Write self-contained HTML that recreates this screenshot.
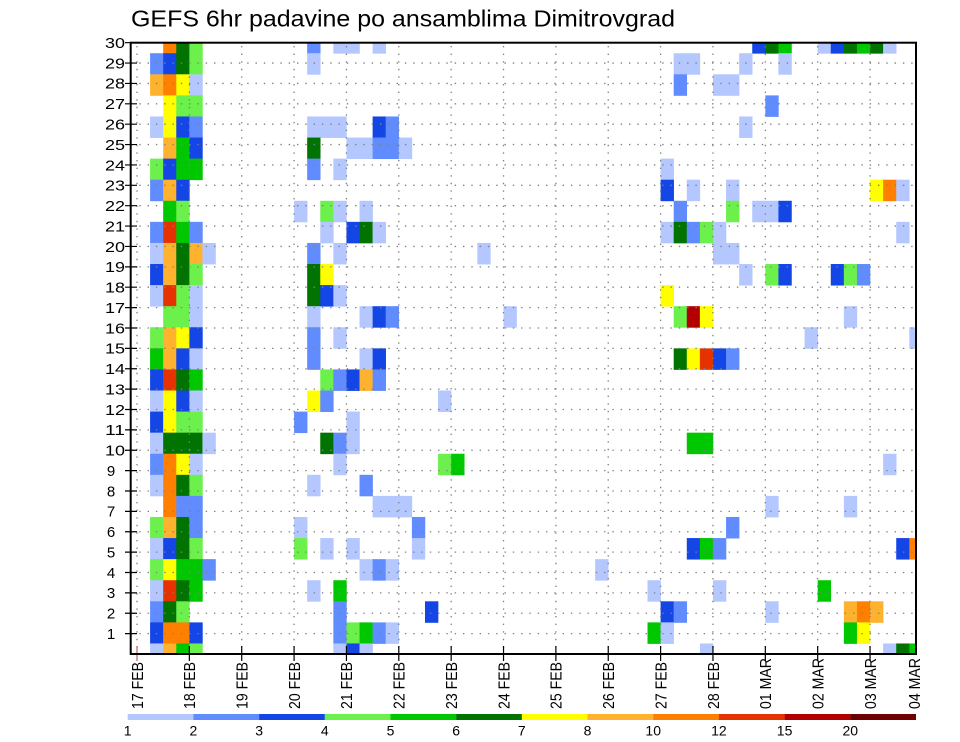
<!DOCTYPE html>
<html>
<head>
<meta charset="utf-8">
<style>
html,body{margin:0;padding:0;background:#fff;}
svg{display:block;}
text{font-family:"Liberation Sans",sans-serif;fill:#000;}
.a{fill:#b4c8ff}.b{fill:#608cff}.c{fill:#1446e6}.d{fill:#6cf04c}.e{fill:#00c800}.f{fill:#007300}
.g{fill:#ffff00}.h{fill:#ffb22e}.i{fill:#ff8000}.j{fill:#e63200}.m{fill:#b20000}.l{fill:#6e0000}
</style>
</head>
<body>
<svg width="960" height="742" viewBox="0 0 960 742" xmlns="http://www.w3.org/2000/svg">
<rect x="0" y="0" width="960" height="742" fill="#fff"/>
<defs><clipPath id="pc"><rect x="130.7" y="42.7" width="785.3" height="611.3"/></clipPath></defs>

<text x="131" y="26.7" font-size="23" textLength="544" lengthAdjust="spacingAndGlyphs">GEFS 6hr padavine po ansamblima Dimitrovgrad</text>

<g clip-path="url(#pc)">
<g transform="matrix(13.09 0 0 21.08 137 643.46)">
<!-- r=29 -->
<rect x="2" y="-29" width="1.02" height="1.02" class="i"/><rect x="3" y="-29" width="1.02" height="1.02" class="f"/><rect x="4" y="-29" width="1.02" height="1.02" class="d"/><rect x="13" y="-29" width="1.02" height="1.02" class="b"/><rect x="15" y="-29" width="2.02" height="1.02" class="a"/><rect x="18" y="-29" width="1.02" height="1.02" class="a"/><rect x="47" y="-29" width="1.02" height="1.02" class="c"/><rect x="48" y="-29" width="1.02" height="1.02" class="f"/><rect x="49" y="-29" width="1.02" height="1.02" class="e"/><rect x="52" y="-29" width="1.02" height="1.02" class="a"/><rect x="53" y="-29" width="1.02" height="1.02" class="c"/><rect x="54" y="-29" width="1.02" height="1.02" class="f"/><rect x="55" y="-29" width="1.02" height="1.02" class="e"/><rect x="56" y="-29" width="1.02" height="1.02" class="f"/><rect x="57" y="-29" width="1.02" height="1.02" class="a"/>
<!-- r=28 -->
<rect x="1" y="-28" width="1.02" height="1.02" class="b"/><rect x="2" y="-28" width="1.02" height="1.02" class="c"/><rect x="3" y="-28" width="1.02" height="1.02" class="f"/><rect x="4" y="-28" width="1.02" height="1.02" class="d"/><rect x="13" y="-28" width="1.02" height="1.02" class="a"/><rect x="41" y="-28" width="2.02" height="1.02" class="a"/><rect x="46" y="-28" width="1.02" height="1.02" class="a"/><rect x="49" y="-28" width="1.02" height="1.02" class="a"/>
<!-- r=27 -->
<rect x="1" y="-27" width="1.02" height="1.02" class="h"/><rect x="2" y="-27" width="1.02" height="1.02" class="i"/><rect x="3" y="-27" width="1.02" height="1.02" class="g"/><rect x="4" y="-27" width="1.02" height="1.02" class="a"/><rect x="41" y="-27" width="1.02" height="1.02" class="b"/><rect x="44" y="-27" width="2.02" height="1.02" class="a"/>
<!-- r=26 -->
<rect x="2" y="-26" width="1.02" height="1.02" class="g"/><rect x="3" y="-26" width="2.02" height="1.02" class="d"/><rect x="48" y="-26" width="1.02" height="1.02" class="b"/>
<!-- r=25 -->
<rect x="1" y="-25" width="1.02" height="1.02" class="a"/><rect x="2" y="-25" width="1.02" height="1.02" class="g"/><rect x="3" y="-25" width="1.02" height="1.02" class="c"/><rect x="4" y="-25" width="1.02" height="1.02" class="b"/><rect x="13" y="-25" width="3.02" height="1.02" class="a"/><rect x="18" y="-25" width="1.02" height="1.02" class="c"/><rect x="19" y="-25" width="1.02" height="1.02" class="b"/><rect x="46" y="-25" width="1.02" height="1.02" class="a"/>
<!-- r=24 -->
<rect x="2" y="-24" width="1.02" height="1.02" class="h"/><rect x="3" y="-24" width="1.02" height="1.02" class="e"/><rect x="4" y="-24" width="1.02" height="1.02" class="c"/><rect x="13" y="-24" width="1.02" height="1.02" class="f"/><rect x="16" y="-24" width="2.02" height="1.02" class="a"/><rect x="18" y="-24" width="2.02" height="1.02" class="b"/><rect x="20" y="-24" width="1.02" height="1.02" class="a"/>
<!-- r=23 -->
<rect x="1" y="-23" width="1.02" height="1.02" class="d"/><rect x="2" y="-23" width="1.02" height="1.02" class="c"/><rect x="3" y="-23" width="2.02" height="1.02" class="e"/><rect x="13" y="-23" width="1.02" height="1.02" class="b"/><rect x="15" y="-23" width="1.02" height="1.02" class="a"/><rect x="40" y="-23" width="1.02" height="1.02" class="a"/>
<!-- r=22 -->
<rect x="1" y="-22" width="1.02" height="1.02" class="b"/><rect x="2" y="-22" width="1.02" height="1.02" class="h"/><rect x="3" y="-22" width="1.02" height="1.02" class="c"/><rect x="40" y="-22" width="1.02" height="1.02" class="c"/><rect x="42" y="-22" width="1.02" height="1.02" class="a"/><rect x="45" y="-22" width="1.02" height="1.02" class="a"/><rect x="56" y="-22" width="1.02" height="1.02" class="g"/><rect x="57" y="-22" width="1.02" height="1.02" class="i"/><rect x="58" y="-22" width="1.02" height="1.02" class="a"/>
<!-- r=21 -->
<rect x="2" y="-21" width="1.02" height="1.02" class="e"/><rect x="3" y="-21" width="1.02" height="1.02" class="d"/><rect x="12" y="-21" width="1.02" height="1.02" class="a"/><rect x="14" y="-21" width="1.02" height="1.02" class="d"/><rect x="15" y="-21" width="1.02" height="1.02" class="a"/><rect x="17" y="-21" width="1.02" height="1.02" class="a"/><rect x="41" y="-21" width="1.02" height="1.02" class="b"/><rect x="45" y="-21" width="1.02" height="1.02" class="d"/><rect x="47" y="-21" width="2.02" height="1.02" class="a"/><rect x="49" y="-21" width="1.02" height="1.02" class="c"/>
<!-- r=20 -->
<rect x="1" y="-20" width="1.02" height="1.02" class="b"/><rect x="2" y="-20" width="1.02" height="1.02" class="j"/><rect x="3" y="-20" width="1.02" height="1.02" class="e"/><rect x="4" y="-20" width="1.02" height="1.02" class="b"/><rect x="14" y="-20" width="1.02" height="1.02" class="a"/><rect x="16" y="-20" width="1.02" height="1.02" class="c"/><rect x="17" y="-20" width="1.02" height="1.02" class="f"/><rect x="18" y="-20" width="1.02" height="1.02" class="a"/><rect x="40" y="-20" width="1.02" height="1.02" class="a"/><rect x="41" y="-20" width="1.02" height="1.02" class="f"/><rect x="42" y="-20" width="1.02" height="1.02" class="b"/><rect x="43" y="-20" width="1.02" height="1.02" class="d"/><rect x="44" y="-20" width="1.02" height="1.02" class="a"/><rect x="58" y="-20" width="1.02" height="1.02" class="a"/>
<!-- r=19 -->
<rect x="1" y="-19" width="1.02" height="1.02" class="a"/><rect x="2" y="-19" width="1.02" height="1.02" class="h"/><rect x="3" y="-19" width="1.02" height="1.02" class="f"/><rect x="4" y="-19" width="1.02" height="1.02" class="h"/><rect x="5" y="-19" width="1.02" height="1.02" class="a"/><rect x="13" y="-19" width="1.02" height="1.02" class="b"/><rect x="15" y="-19" width="1.02" height="1.02" class="a"/><rect x="26" y="-19" width="1.02" height="1.02" class="a"/><rect x="44" y="-19" width="2.02" height="1.02" class="a"/>
<!-- r=18 -->
<rect x="1" y="-18" width="1.02" height="1.02" class="c"/><rect x="2" y="-18" width="1.02" height="1.02" class="h"/><rect x="3" y="-18" width="1.02" height="1.02" class="f"/><rect x="4" y="-18" width="1.02" height="1.02" class="d"/><rect x="13" y="-18" width="1.02" height="1.02" class="f"/><rect x="14" y="-18" width="1.02" height="1.02" class="g"/><rect x="46" y="-18" width="1.02" height="1.02" class="a"/><rect x="48" y="-18" width="1.02" height="1.02" class="d"/><rect x="49" y="-18" width="1.02" height="1.02" class="c"/><rect x="53" y="-18" width="1.02" height="1.02" class="c"/><rect x="54" y="-18" width="1.02" height="1.02" class="d"/><rect x="55" y="-18" width="1.02" height="1.02" class="b"/>
<!-- r=17 -->
<rect x="1" y="-17" width="1.02" height="1.02" class="a"/><rect x="2" y="-17" width="1.02" height="1.02" class="j"/><rect x="3" y="-17" width="1.02" height="1.02" class="d"/><rect x="4" y="-17" width="1.02" height="1.02" class="a"/><rect x="13" y="-17" width="1.02" height="1.02" class="f"/><rect x="14" y="-17" width="1.02" height="1.02" class="c"/><rect x="15" y="-17" width="1.02" height="1.02" class="a"/><rect x="40" y="-17" width="1.02" height="1.02" class="g"/>
<!-- r=16 -->
<rect x="2" y="-16" width="2.02" height="1.02" class="d"/><rect x="4" y="-16" width="1.02" height="1.02" class="a"/><rect x="13" y="-16" width="1.02" height="1.02" class="a"/><rect x="17" y="-16" width="1.02" height="1.02" class="a"/><rect x="18" y="-16" width="1.02" height="1.02" class="c"/><rect x="19" y="-16" width="1.02" height="1.02" class="b"/><rect x="28" y="-16" width="1.02" height="1.02" class="a"/><rect x="41" y="-16" width="1.02" height="1.02" class="d"/><rect x="42" y="-16" width="1.02" height="1.02" class="m"/><rect x="43" y="-16" width="1.02" height="1.02" class="g"/><rect x="54" y="-16" width="1.02" height="1.02" class="a"/>
<!-- r=15 -->
<rect x="1" y="-15" width="1.02" height="1.02" class="d"/><rect x="2" y="-15" width="1.02" height="1.02" class="h"/><rect x="3" y="-15" width="1.02" height="1.02" class="g"/><rect x="4" y="-15" width="1.02" height="1.02" class="c"/><rect x="13" y="-15" width="1.02" height="1.02" class="b"/><rect x="15" y="-15" width="1.02" height="1.02" class="a"/><rect x="51" y="-15" width="1.02" height="1.02" class="a"/><rect x="59" y="-15" width="1.02" height="1.02" class="a"/>
<!-- r=14 -->
<rect x="1" y="-14" width="1.02" height="1.02" class="e"/><rect x="2" y="-14" width="1.02" height="1.02" class="h"/><rect x="3" y="-14" width="1.02" height="1.02" class="c"/><rect x="4" y="-14" width="1.02" height="1.02" class="a"/><rect x="13" y="-14" width="1.02" height="1.02" class="b"/><rect x="17" y="-14" width="1.02" height="1.02" class="a"/><rect x="18" y="-14" width="1.02" height="1.02" class="c"/><rect x="41" y="-14" width="1.02" height="1.02" class="f"/><rect x="42" y="-14" width="1.02" height="1.02" class="g"/><rect x="43" y="-14" width="1.02" height="1.02" class="j"/><rect x="44" y="-14" width="1.02" height="1.02" class="c"/><rect x="45" y="-14" width="1.02" height="1.02" class="b"/>
<!-- r=13 -->
<rect x="1" y="-13" width="1.02" height="1.02" class="c"/><rect x="2" y="-13" width="1.02" height="1.02" class="j"/><rect x="3" y="-13" width="1.02" height="1.02" class="f"/><rect x="4" y="-13" width="1.02" height="1.02" class="e"/><rect x="14" y="-13" width="1.02" height="1.02" class="d"/><rect x="15" y="-13" width="1.02" height="1.02" class="b"/><rect x="16" y="-13" width="1.02" height="1.02" class="c"/><rect x="17" y="-13" width="1.02" height="1.02" class="h"/><rect x="18" y="-13" width="1.02" height="1.02" class="b"/>
<!-- r=12 -->
<rect x="1" y="-12" width="1.02" height="1.02" class="a"/><rect x="2" y="-12" width="1.02" height="1.02" class="g"/><rect x="3" y="-12" width="1.02" height="1.02" class="c"/><rect x="4" y="-12" width="1.02" height="1.02" class="a"/><rect x="13" y="-12" width="1.02" height="1.02" class="g"/><rect x="14" y="-12" width="1.02" height="1.02" class="b"/><rect x="23" y="-12" width="1.02" height="1.02" class="a"/>
<!-- r=11 -->
<rect x="1" y="-11" width="1.02" height="1.02" class="c"/><rect x="2" y="-11" width="1.02" height="1.02" class="g"/><rect x="3" y="-11" width="2.02" height="1.02" class="d"/><rect x="12" y="-11" width="1.02" height="1.02" class="b"/><rect x="16" y="-11" width="1.02" height="1.02" class="a"/>
<!-- r=10 -->
<rect x="1" y="-10" width="1.02" height="1.02" class="a"/><rect x="2" y="-10" width="3.02" height="1.02" class="f"/><rect x="5" y="-10" width="1.02" height="1.02" class="a"/><rect x="14" y="-10" width="1.02" height="1.02" class="f"/><rect x="15" y="-10" width="1.02" height="1.02" class="b"/><rect x="16" y="-10" width="1.02" height="1.02" class="a"/><rect x="42" y="-10" width="2.02" height="1.02" class="e"/>
<!-- r=9 -->
<rect x="1" y="-9" width="1.02" height="1.02" class="b"/><rect x="2" y="-9" width="1.02" height="1.02" class="i"/><rect x="3" y="-9" width="1.02" height="1.02" class="g"/><rect x="4" y="-9" width="1.02" height="1.02" class="a"/><rect x="15" y="-9" width="1.02" height="1.02" class="a"/><rect x="23" y="-9" width="1.02" height="1.02" class="d"/><rect x="24" y="-9" width="1.02" height="1.02" class="e"/><rect x="57" y="-9" width="1.02" height="1.02" class="a"/>
<!-- r=8 -->
<rect x="1" y="-8" width="1.02" height="1.02" class="a"/><rect x="2" y="-8" width="1.02" height="1.02" class="i"/><rect x="3" y="-8" width="1.02" height="1.02" class="f"/><rect x="4" y="-8" width="1.02" height="1.02" class="d"/><rect x="13" y="-8" width="1.02" height="1.02" class="a"/><rect x="17" y="-8" width="1.02" height="1.02" class="b"/>
<!-- r=7 -->
<rect x="2" y="-7" width="1.02" height="1.02" class="i"/><rect x="3" y="-7" width="2.02" height="1.02" class="b"/><rect x="18" y="-7" width="3.02" height="1.02" class="a"/><rect x="48" y="-7" width="1.02" height="1.02" class="a"/><rect x="54" y="-7" width="1.02" height="1.02" class="a"/>
<!-- r=6 -->
<rect x="1" y="-6" width="1.02" height="1.02" class="d"/><rect x="2" y="-6" width="1.02" height="1.02" class="h"/><rect x="3" y="-6" width="1.02" height="1.02" class="f"/><rect x="4" y="-6" width="1.02" height="1.02" class="b"/><rect x="12" y="-6" width="1.02" height="1.02" class="a"/><rect x="21" y="-6" width="1.02" height="1.02" class="b"/><rect x="45" y="-6" width="1.02" height="1.02" class="b"/>
<!-- r=5 -->
<rect x="1" y="-5" width="1.02" height="1.02" class="a"/><rect x="2" y="-5" width="1.02" height="1.02" class="c"/><rect x="3" y="-5" width="1.02" height="1.02" class="f"/><rect x="4" y="-5" width="1.02" height="1.02" class="d"/><rect x="12" y="-5" width="1.02" height="1.02" class="d"/><rect x="14" y="-5" width="1.02" height="1.02" class="a"/><rect x="16" y="-5" width="1.02" height="1.02" class="a"/><rect x="21" y="-5" width="1.02" height="1.02" class="a"/><rect x="42" y="-5" width="1.02" height="1.02" class="c"/><rect x="43" y="-5" width="1.02" height="1.02" class="e"/><rect x="44" y="-5" width="1.02" height="1.02" class="b"/><rect x="58" y="-5" width="1.02" height="1.02" class="c"/><rect x="59" y="-5" width="1.02" height="1.02" class="i"/>
<!-- r=4 -->
<rect x="1" y="-4" width="1.02" height="1.02" class="d"/><rect x="2" y="-4" width="1.02" height="1.02" class="g"/><rect x="3" y="-4" width="2.02" height="1.02" class="e"/><rect x="5" y="-4" width="1.02" height="1.02" class="b"/><rect x="17" y="-4" width="1.02" height="1.02" class="a"/><rect x="18" y="-4" width="1.02" height="1.02" class="b"/><rect x="19" y="-4" width="1.02" height="1.02" class="a"/><rect x="35" y="-4" width="1.02" height="1.02" class="a"/>
<!-- r=3 -->
<rect x="1" y="-3" width="1.02" height="1.02" class="a"/><rect x="2" y="-3" width="1.02" height="1.02" class="j"/><rect x="3" y="-3" width="1.02" height="1.02" class="f"/><rect x="4" y="-3" width="1.02" height="1.02" class="e"/><rect x="13" y="-3" width="1.02" height="1.02" class="a"/><rect x="15" y="-3" width="1.02" height="1.02" class="e"/><rect x="39" y="-3" width="1.02" height="1.02" class="a"/><rect x="44" y="-3" width="1.02" height="1.02" class="a"/><rect x="52" y="-3" width="1.02" height="1.02" class="e"/>
<!-- r=2 -->
<rect x="1" y="-2" width="1.02" height="1.02" class="b"/><rect x="2" y="-2" width="1.02" height="1.02" class="f"/><rect x="3" y="-2" width="1.02" height="1.02" class="d"/><rect x="15" y="-2" width="1.02" height="1.02" class="b"/><rect x="22" y="-2" width="1.02" height="1.02" class="c"/><rect x="40" y="-2" width="1.02" height="1.02" class="c"/><rect x="41" y="-2" width="1.02" height="1.02" class="b"/><rect x="48" y="-2" width="1.02" height="1.02" class="a"/><rect x="54" y="-2" width="1.02" height="1.02" class="h"/><rect x="55" y="-2" width="1.02" height="1.02" class="i"/><rect x="56" y="-2" width="1.02" height="1.02" class="h"/>
<!-- r=1 -->
<rect x="1" y="-1" width="1.02" height="1.02" class="c"/><rect x="2" y="-1" width="2.02" height="1.02" class="i"/><rect x="4" y="-1" width="1.02" height="1.02" class="c"/><rect x="15" y="-1" width="1.02" height="1.02" class="b"/><rect x="16" y="-1" width="1.02" height="1.02" class="d"/><rect x="17" y="-1" width="1.02" height="1.02" class="e"/><rect x="18" y="-1" width="1.02" height="1.02" class="b"/><rect x="19" y="-1" width="1.02" height="1.02" class="a"/><rect x="39" y="-1" width="1.02" height="1.02" class="e"/><rect x="40" y="-1" width="1.02" height="1.02" class="a"/><rect x="54" y="-1" width="1.02" height="1.02" class="e"/><rect x="55" y="-1" width="1.02" height="1.02" class="g"/>
<!-- r=0 -->
<rect x="1" y="0" width="1.02" height="1.02" class="a"/><rect x="2" y="0" width="1.02" height="1.02" class="h"/><rect x="3" y="0" width="1.02" height="1.02" class="e"/><rect x="4" y="0" width="1.02" height="1.02" class="d"/><rect x="15" y="0" width="1.02" height="1.02" class="a"/><rect x="16" y="0" width="1.02" height="1.02" class="c"/><rect x="17" y="0" width="1.02" height="1.02" class="a"/><rect x="43" y="0" width="1.02" height="1.02" class="a"/><rect x="57" y="0" width="1.02" height="1.02" class="a"/><rect x="58" y="0" width="1.02" height="1.02" class="f"/><rect x="59" y="0" width="1.02" height="1.02" class="e"/>
</g>

<!-- grid dotted lines -->
<path fill="none" stroke="#808080" stroke-width="1.3" stroke-dasharray="1.4 6.9" d="
M131 633.62H916 M131 613.25H916 M131 592.87H916 M131 572.49H916 M131 552.12H916 M131 531.74H916 M131 511.36H916 M131 490.98H916 M131 470.61H916 M131 450.23H916
M131 429.85H916 M131 409.48H916 M131 389.10H916 M131 368.72H916 M131 348.35H916 M131 327.97H916 M131 307.59H916 M131 287.21H916 M131 266.84H916 M131 246.46H916
M131 226.08H916 M131 205.71H916 M131 185.33H916 M131 164.95H916 M131 144.58H916 M131 124.20H916 M131 103.82H916 M131 83.44H916 M131 63.07H916"/>
<path fill="none" stroke="#808080" stroke-width="1.3" stroke-dasharray="1.4 6.2" d="
M137 46V654 M189.36 46V654 M241.72 46V654 M294.08 46V654 M346.44 46V654 M398.8 46V654 M451.16 46V654 M503.52 46V654
M555.88 46V654 M608.24 46V654 M660.6 46V654 M712.96 46V654 M765.32 46V654 M817.68 46V654 M870.04 46V654"/>
</g>

<!-- y ticks -->
<path fill="none" stroke="#000" stroke-width="1.2" d="
M125 633.62H137 M125 613.25H137 M125 592.87H137 M125 572.49H137 M125 552.12H137 M125 531.74H137 M125 511.36H137 M125 490.98H137 M125 470.61H137 M125 450.23H137
M125 429.85H137 M125 409.48H137 M125 389.10H137 M125 368.72H137 M125 348.35H137 M125 327.97H137 M125 307.59H137 M125 287.21H137 M125 266.84H137 M125 246.46H137
M125 226.08H137 M125 205.71H137 M125 185.33H137 M125 164.95H137 M125 144.58H137 M125 124.20H137 M125 103.82H137 M125 83.44H137 M125 63.07H137 M125 42.69H131"/>
<!-- x ticks -->
<path fill="none" stroke="#c06060" stroke-width="1.2" d="M137 646V661"/>
<path fill="none" stroke="#000" stroke-width="1.2" d="
M189.36 646V661 M241.72 646V661 M294.08 646V661 M346.44 646V661 M398.8 646V661 M451.16 646V661 M503.52 646V661
M555.88 646V661 M608.24 646V661 M660.6 646V661 M712.96 646V661 M765.32 646V661 M817.68 646V661 M870.04 646V661"/>

<!-- frame -->
<rect x="130.7" y="42.7" width="785.3" height="611.3" fill="none" stroke="#000" stroke-width="2"/>

<!-- y labels -->
<g font-size="15">
<text x="111" y="638.9" text-anchor="middle">1</text>
<text x="111" y="618.5" text-anchor="middle">2</text>
<text x="111" y="598.2" text-anchor="middle">3</text>
<text x="111" y="577.8" text-anchor="middle">4</text>
<text x="111" y="557.4" text-anchor="middle">5</text>
<text x="111" y="537.0" text-anchor="middle">6</text>
<text x="111" y="516.7" text-anchor="middle">7</text>
<text x="111" y="496.3" text-anchor="middle">8</text>
<text x="111" y="475.9" text-anchor="middle">9</text>
<text x="105" y="455.5" textLength="20" lengthAdjust="spacingAndGlyphs">10</text>
<text x="105" y="435.2" textLength="20" lengthAdjust="spacingAndGlyphs">11</text>
<text x="105" y="414.8" textLength="20" lengthAdjust="spacingAndGlyphs">12</text>
<text x="105" y="394.4" textLength="20" lengthAdjust="spacingAndGlyphs">13</text>
<text x="105" y="374.0" textLength="20" lengthAdjust="spacingAndGlyphs">14</text>
<text x="105" y="353.7" textLength="20" lengthAdjust="spacingAndGlyphs">15</text>
<text x="105" y="333.3" textLength="20" lengthAdjust="spacingAndGlyphs">16</text>
<text x="105" y="312.9" textLength="20" lengthAdjust="spacingAndGlyphs">17</text>
<text x="105" y="292.5" textLength="20" lengthAdjust="spacingAndGlyphs">18</text>
<text x="105" y="272.1" textLength="20" lengthAdjust="spacingAndGlyphs">19</text>
<text x="105" y="251.8" textLength="20" lengthAdjust="spacingAndGlyphs">20</text>
<text x="105" y="231.4" textLength="20" lengthAdjust="spacingAndGlyphs">21</text>
<text x="105" y="211.0" textLength="20" lengthAdjust="spacingAndGlyphs">22</text>
<text x="105" y="190.6" textLength="20" lengthAdjust="spacingAndGlyphs">23</text>
<text x="105" y="170.3" textLength="20" lengthAdjust="spacingAndGlyphs">24</text>
<text x="105" y="149.9" textLength="20" lengthAdjust="spacingAndGlyphs">25</text>
<text x="105" y="129.5" textLength="20" lengthAdjust="spacingAndGlyphs">26</text>
<text x="105" y="109.1" textLength="20" lengthAdjust="spacingAndGlyphs">27</text>
<text x="105" y="88.7" textLength="20" lengthAdjust="spacingAndGlyphs">28</text>
<text x="105" y="68.4" textLength="20" lengthAdjust="spacingAndGlyphs">29</text>
<text x="105" y="48.0" textLength="20" lengthAdjust="spacingAndGlyphs">30</text>
</g>

<!-- x labels (rotated) -->
<g font-size="16">
<text transform="translate(142.8,709) rotate(-90)" textLength="47" lengthAdjust="spacingAndGlyphs">17 FEB</text>
<text transform="translate(195.2,709) rotate(-90)" textLength="47" lengthAdjust="spacingAndGlyphs">18 FEB</text>
<text transform="translate(247.5,709) rotate(-90)" textLength="47" lengthAdjust="spacingAndGlyphs">19 FEB</text>
<text transform="translate(299.9,709) rotate(-90)" textLength="47" lengthAdjust="spacingAndGlyphs">20 FEB</text>
<text transform="translate(352.2,709) rotate(-90)" textLength="47" lengthAdjust="spacingAndGlyphs">21 FEB</text>
<text transform="translate(404.6,709) rotate(-90)" textLength="47" lengthAdjust="spacingAndGlyphs">22 FEB</text>
<text transform="translate(457.0,709) rotate(-90)" textLength="47" lengthAdjust="spacingAndGlyphs">23 FEB</text>
<text transform="translate(509.3,709) rotate(-90)" textLength="47" lengthAdjust="spacingAndGlyphs">24 FEB</text>
<text transform="translate(561.7,709) rotate(-90)" textLength="47" lengthAdjust="spacingAndGlyphs">25 FEB</text>
<text transform="translate(614.0,709) rotate(-90)" textLength="47" lengthAdjust="spacingAndGlyphs">26 FEB</text>
<text transform="translate(666.4,709) rotate(-90)" textLength="47" lengthAdjust="spacingAndGlyphs">27 FEB</text>
<text transform="translate(718.8,709) rotate(-90)" textLength="47" lengthAdjust="spacingAndGlyphs">28 FEB</text>
<text transform="translate(771.1,709) rotate(-90)" textLength="51" lengthAdjust="spacingAndGlyphs">01 MAR</text>
<text transform="translate(823.5,709) rotate(-90)" textLength="51" lengthAdjust="spacingAndGlyphs">02 MAR</text>
<text transform="translate(875.8,709) rotate(-90)" textLength="51" lengthAdjust="spacingAndGlyphs">03 MAR</text>
<text transform="translate(919.8,709) rotate(-90)" textLength="51" lengthAdjust="spacingAndGlyphs">04 MAR</text>
</g>

<!-- colorbar -->
<g>
<rect x="127.7" y="714" width="65.8" height="6" class="a"/>
<rect x="193.4" y="714" width="65.8" height="6" class="b"/>
<rect x="259.1" y="714" width="65.8" height="6" class="c"/>
<rect x="324.8" y="714" width="65.8" height="6" class="d"/>
<rect x="390.5" y="714" width="65.8" height="6" class="e"/>
<rect x="456.2" y="714" width="65.8" height="6" class="f"/>
<rect x="521.8" y="714" width="65.8" height="6" class="g"/>
<rect x="587.5" y="714" width="65.8" height="6" class="h"/>
<rect x="653.2" y="714" width="65.8" height="6" class="i"/>
<rect x="718.9" y="714" width="65.8" height="6" class="j"/>
<rect x="784.6" y="714" width="65.8" height="6" class="m"/>
<rect x="850.3" y="714" width="65.7" height="6" class="l"/>
</g>
<g font-size="14" text-anchor="middle">
<text x="127.7" y="735.5">1</text>
<text x="193.4" y="735.5">2</text>
<text x="259.1" y="735.5">3</text>
<text x="324.8" y="735.5">4</text>
<text x="390.5" y="735.5">5</text>
<text x="456.2" y="735.5">6</text>
<text x="521.8" y="735.5">7</text>
<text x="587.5" y="735.5">8</text>
<text x="653.2" y="735.5">10</text>
<text x="718.9" y="735.5">12</text>
<text x="784.6" y="735.5">15</text>
<text x="850.3" y="735.5">20</text>
</g>
</svg>
</body>
</html>
